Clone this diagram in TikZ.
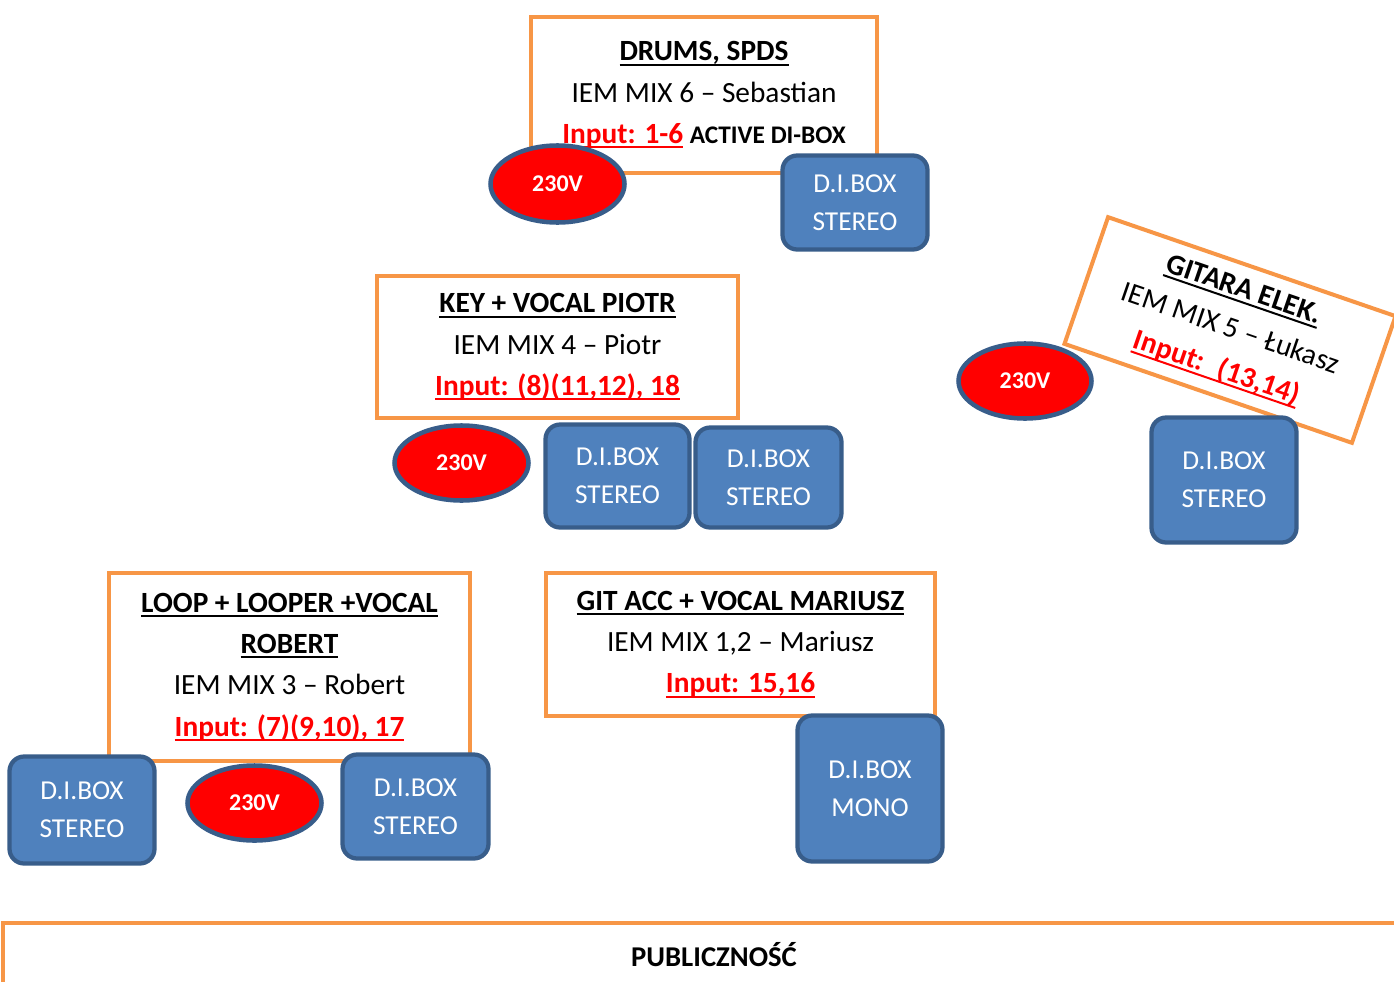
\documentclass[tikz,border=0pt]{standalone}
\usepackage{fontspec}
\setmainfont{Carlito}
\usetikzlibrary{shapes.geometric}
\definecolor{orng}{HTML}{F79646}
\definecolor{bfill}{HTML}{4F81BD}
\definecolor{bdraw}{HTML}{385D8A}
\newcommand\myul[1]{\setbox0\hbox{#1}\rlap{\raisebox{-3.8pt}{\rule{\wd0}{1.5pt}}}\box0}
\newcommand\ttl[1]{\textbf{\myul{#1}}}
\newcommand\inp[1]{\textcolor{red}{\textbf{\myul{#1}}}}
\begin{document}
\begin{tikzpicture}[x=0.75pt,y=-0.75pt,
 stage/.style={draw=orng,line width=3pt,fill=white,align=center,inner sep=0pt,font=\fontsize{22}{31}\selectfont},
 sz/.style 2 args={minimum width=#1*0.75pt,minimum height=#2*0.75pt},
 dibox/.style={draw=bdraw,fill=bfill,line width=3.2pt,rounded corners=11pt,align=center,text=white,inner sep=0pt,font=\fontsize{20.5}{28.5}\selectfont},
 pwr/.style={ellipse,draw=bdraw,fill=red,line width=3.4pt,text=white,inner sep=0pt,font=\bfseries\fontsize{18}{21}\selectfont},
 aud/.style={font=\bfseries\fontsize{21.5}{24}\selectfont}]
\useasboundingbox (0,0) rectangle (1394,981);
% stage boxes
\node[stage,sz={346}{156}] (drums) at (704,95) {\ttl{DRUMS, SPDS}\\IEM MIX 6 -- Sebastian\\\inp{Input: 1-6} {\bfseries\fontsize{19}{31}\selectfont ACTIVE DI-BOX}};
\node[stage,sz={361}{142}] (key) at (557.5,347) {\ttl{KEY + VOCAL PIOTR}\\IEM MIX 4 -- Piotr\\\inp{Input: (8)(11,12), 18}};
\node[stage,sz={304}{134},rotate=-19] (gitara) at (1230,330) {\ttl{GITARA ELEK.}\\IEM MIX 5 -- Łukasz\\\inp{Input:~ (13,14)}};
\node[stage,sz={361}{188}] (loop) at (289.5,667) {\ttl{LOOP + LOOPER +VOCAL}\\\ttl{ROBERT}\\IEM MIX 3 -- Robert\\\inp{Input: (7)(9,10), 17}};
\node[stage,sz={389}{143}] (gitacc) at (740.5,644.5) {\ttl{GIT ACC + VOCAL MARIUSZ}\\IEM MIX 1,2 -- Mariusz\\\inp{Input: 15,16}};
% audience
\coordinate (audtl) at (3,923);
\draw[orng,line width=3.5pt] (audtl |- 0,1000) -- (audtl) -- (1420,923);
\node[aud] (publ) at (714,955) {PUBLICZNOŚĆ};
% power
\node[pwr,sz={134}{77}] (p1) at (557.5,184) {230V};
\node[pwr,sz={134}{75}] (p2) at (461.5,463) {230V};
\node[pwr,sz={133}{75}] (p3) at (1025,381) {230V};
\node[pwr,sz={134}{75}] (p4) at (254.5,803) {230V};
% DI boxes
\node[dibox,sz={145}{94}] (d1) at (855,202.5) {D.I.BOX\\STEREO};
\node[dibox,sz={144}{103}] (d2) at (617.5,476) {D.I.BOX\\STEREO};
\node[dibox,sz={146}{100}] (d3) at (768.5,477.5) {D.I.BOX\\STEREO};
\node[dibox,sz={145}{125}] (d4) at (1224,480) {D.I.BOX\\STEREO};
\node[dibox,sz={145}{107}] (d5) at (82,810) {D.I.BOX\\STEREO};
\node[dibox,sz={146}{104}] (d6) at (415.5,806.5) {D.I.BOX\\STEREO};
\node[dibox,sz={145}{146}] (d7) at (870,788.5) {D.I.BOX\\MONO};
\end{tikzpicture}
\end{document}
